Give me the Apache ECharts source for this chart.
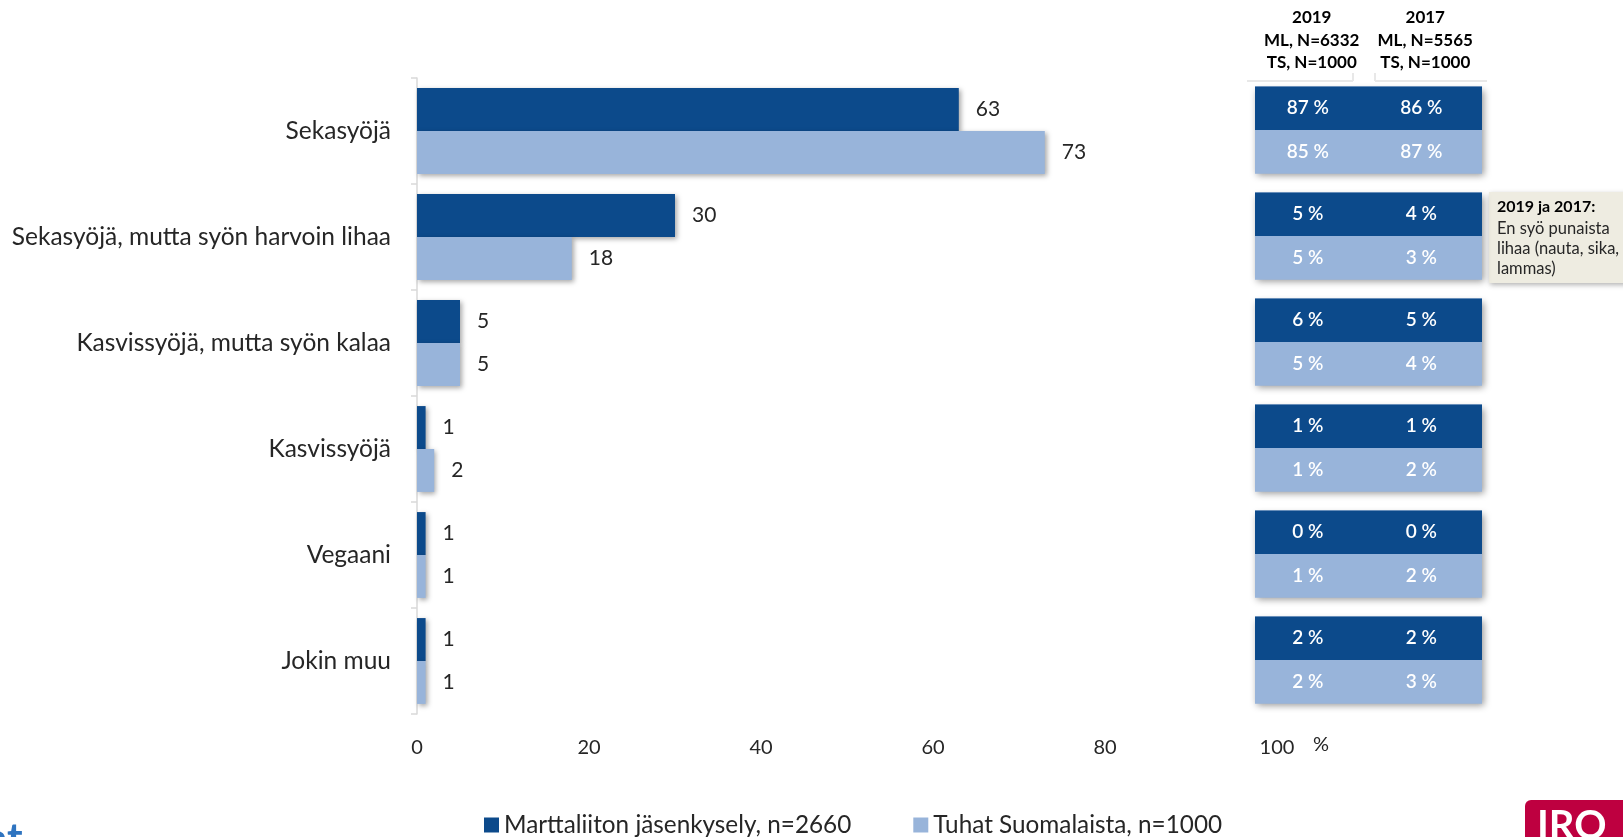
<!DOCTYPE html>
<html>
<head>
<meta charset="utf-8">
<script src="https://cdn.jsdelivr.net/npm/echarts@6/dist/echarts.min.js"></script>
<style>
html,body{margin:0;padding:0;background:#fff;}
#chart{width:1623px;height:837px;}
</style>
</head>
<body>
<div id="chart"></div>
<script>
var categories = ['Sekasyöjä', 'Sekasyöjä, mutta syön harvoin lihaa', 'Kasvissyöjä, mutta syön kalaa', 'Kasvissyöjä', 'Vegaani', 'Jokin muu'];
var seriesNames = ['Marttaliiton jäsenkysely, n=2660', 'Tuhat Suomalaista, n=1000'];
var martat2660 = [63, 30, 5, 1, 1, 1];
var tuhat1000 = [73, 18, 5, 2, 1, 1];
var xTicks = [0, 20, 40, 60, 80, 100];
var tableHeaders = ['2019\nML, N=6332\nTS, N=1000', '2017\nML, N=5565\nTS, N=1000'];
var ml2019 = [87, 5, 6, 1, 0, 2];
var ml2017 = [86, 4, 5, 1, 0, 2];
var ts2019 = [85, 5, 5, 1, 1, 2];
var ts2017 = [87, 3, 4, 2, 2, 3];
var noteTitle = '2019 ja 2017:';
var noteLines = ['En syö punaista', 'lihaa (nauta, sika,', 'lammas)'];

var DARK = '#0C4A8B';
var LIGHT = '#98B4DA';
var FONT = 'Lato, "Open Sans", sans-serif';

var tableData = categories.map(function (c, i) {
  return [i, ml2019[i], ml2017[i], ts2019[i], ts2017[i]];
});

var chart = echarts.init(document.getElementById('chart'));
var shadow = {shadowColor: 'rgba(0,0,0,0.35)', shadowBlur: 5, shadowOffsetX: 2, shadowOffsetY: 2};

function renderTable(params, api) {
  var row = api.value(0);
  var c0 = api.coord([0, row]);
  var c1 = api.coord([1, row]);
  var sz = api.size([1, 1]);
  var colW = sz[0];
  var bandH = sz[1];
  var blockH = bandH * 0.82;
  var x0 = c0[0] - colW / 2;
  var totalW = colW * 2;
  var yTop = c0[1] - blockH / 2;
  var half = blockH / 2;
  var tStyle = function (txt, x, y) {
    return {type: 'text', style: {text: txt + ' %', x: x, y: y, fill: '#fff', font: '600 19px ' + FONT, align: 'center', verticalAlign: 'middle'}};
  };
  return {
    type: 'group',
    children: [
      {type: 'rect', shape: {x: x0, y: yTop, width: totalW, height: blockH}, style: {fill: LIGHT, shadowColor: 'rgba(0,0,0,0.4)', shadowBlur: 7, shadowOffsetX: 2, shadowOffsetY: 3}},
      {type: 'rect', shape: {x: x0, y: yTop, width: totalW, height: half}, style: {fill: DARK}},
      {type: 'rect', shape: {x: x0, y: yTop + half, width: totalW, height: half}, style: {fill: LIGHT}},
      tStyle(api.value(1), c0[0] - 4, yTop + half / 2),
      tStyle(api.value(2), c1[0] - 4, yTop + half / 2),
      tStyle(api.value(3), c0[0] - 4, yTop + half * 1.5),
      tStyle(api.value(4), c1[0] - 4, yTop + half * 1.5)
    ]
  };
}

var option = {
  backgroundColor: '#fff',
  animation: false,
  textStyle: {fontFamily: FONT},
  legend: {
    data: seriesNames,
    left: 479, top: 808,
    icon: 'rect', itemWidth: 15, itemHeight: 15, itemGap: 62,
    textStyle: {fontSize: 24.3, color: '#262626', fontFamily: FONT}
  },
  grid: [
    {left: 417, right: 346, top: 78, bottom: 123},
    {left: 1255, width: 227, top: 77, bottom: 124}
  ],
  xAxis: [
    {
      type: 'value', gridIndex: 0, min: 0, max: 100, interval: 20,
      axisLine: {show: false}, axisTick: {show: false}, splitLine: {show: false},
      axisLabel: {fontSize: 20, color: '#262626', margin: 24, fontFamily: FONT}
    },
    {
      type: 'category', gridIndex: 1, position: 'top', data: tableHeaders,
      axisLine: {show: false}, axisTick: {show: false}, splitLine: {show: false},
      axisLabel: {interval: 0, hideOverlap: false, fontSize: 17, fontWeight: 'bold', color: '#000', lineHeight: 22.5, margin: 3, fontFamily: FONT}
    }
  ],
  yAxis: [
    {
      type: 'category', gridIndex: 0, data: categories, inverse: true,
      axisLine: {show: true, lineStyle: {color: '#D9D9D9', width: 1.5}},
      axisTick: {show: true, length: 6, lineStyle: {color: '#D9D9D9', width: 1.5}},
      axisLabel: {fontSize: 24.5, color: '#262626', margin: 26, fontFamily: FONT}
    },
    {
      type: 'category', gridIndex: 1, data: categories, inverse: true,
      show: false
    }
  ],
  series: [
    {
      name: seriesNames[0], type: 'bar', xAxisIndex: 0, yAxisIndex: 0,
      data: martat2660, barGap: '0%', barCategoryGap: '19%',
      itemStyle: Object.assign({color: DARK}, shadow),
      label: {show: true, position: 'right', distance: 17, fontSize: 21, color: '#262626', fontFamily: FONT}
    },
    {
      name: seriesNames[1], type: 'bar', xAxisIndex: 0, yAxisIndex: 0,
      data: tuhat1000, barGap: '0%', barCategoryGap: '19%',
      itemStyle: Object.assign({color: LIGHT}, shadow),
      label: {show: true, position: 'right', distance: 17, fontSize: 21, color: '#262626', fontFamily: FONT}
    },
    {
      type: 'custom', xAxisIndex: 1, yAxisIndex: 1,
      data: tableData, encode: {y: 0},
      renderItem: renderTable, silent: true
    }
  ],
  graphic: [
    {type: 'text', left: 1313, top: 735, style: {text: '%', font: '20px ' + FONT, fill: '#262626'}},
    {type: 'line', shape: {x1: 1247, y1: 81, x2: 1353, y2: 81}, style: {stroke: '#E8E8E8', lineWidth: 2}},
    {type: 'line', shape: {x1: 1375, y1: 81, x2: 1487, y2: 81}, style: {stroke: '#E8E8E8', lineWidth: 2}},
    {type: 'line', shape: {x1: 1353, y1: 73, x2: 1353, y2: 81}, style: {stroke: '#E8E8E8', lineWidth: 2}},
    {type: 'line', shape: {x1: 1375, y1: 73, x2: 1375, y2: 81}, style: {stroke: '#E8E8E8', lineWidth: 2}},
    {type: 'rect', shape: {x: 1489, y: 192, width: 140, height: 91}, style: {fill: '#EEECE1', shadowColor: 'rgba(0,0,0,0.3)', shadowBlur: 5, shadowOffsetX: 1, shadowOffsetY: 2}},
    {type: 'text', x: 1497, y: 207, style: {text: noteTitle, font: 'bold 16px ' + FONT, fill: '#000', verticalAlign: 'middle'}},
    {type: 'text', x: 1497, y: 229, style: {text: noteLines[0], font: '16.5px ' + FONT, fill: '#262626', verticalAlign: 'middle'}},
    {type: 'text', x: 1497, y: 249, style: {text: noteLines[1], font: '16.5px ' + FONT, fill: '#262626', verticalAlign: 'middle'}},
    {type: 'text', x: 1497, y: 269, style: {text: noteLines[2], font: '16.5px ' + FONT, fill: '#262626', verticalAlign: 'middle'}},
    {type: 'text', x: -14, y: 818, style: {text: 'at', font: 'bold 42px ' + FONT, fill: '#2F74C0'}},
    {type: 'rect', shape: {x: 1525, y: 800, width: 110, height: 60, r: [6, 0, 0, 0]}, style: {fill: '#BE0040'}},
    {type: 'text', x: 1537, y: 806, style: {text: 'IRO', font: 'bold 40px ' + FONT, fill: '#fff'}}
  ]
};
chart.setOption(option);
</script>
</body>
</html>
